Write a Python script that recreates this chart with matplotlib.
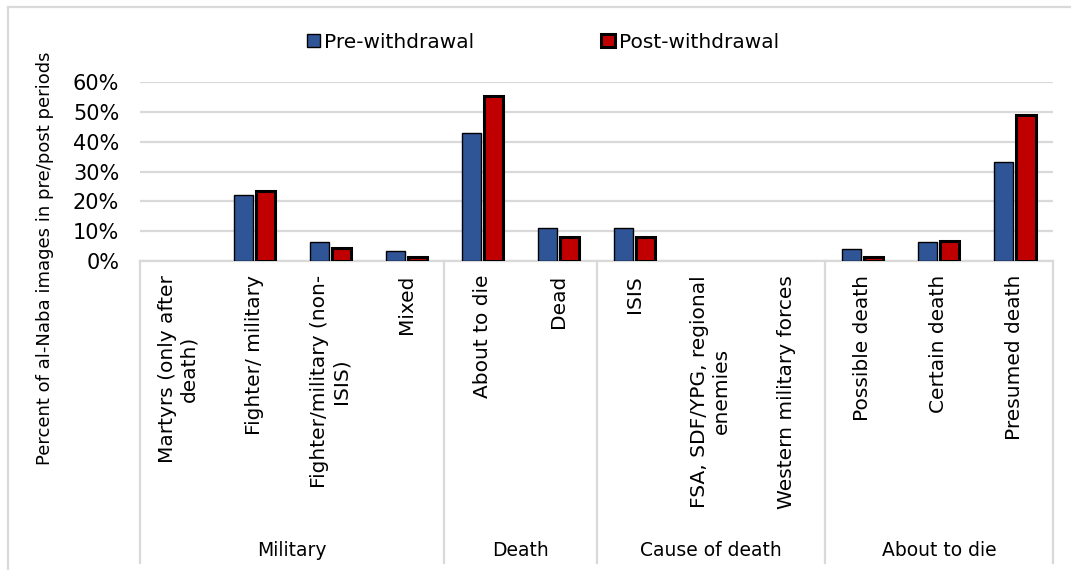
import matplotlib.pyplot as plt
from matplotlib.lines import Line2D
from matplotlib.patches import Patch
from matplotlib.transforms import blended_transform_factory

categorias = [
    "Martyrs (only after\ndeath)", "Fighter/ military", "Fighter/military (non-\nISIS)", "Mixed",
    "About to die", "Dead",
    "ISIS", "FSA, SDF/YPG, regional\nenemies", "Western military forces",
    "Possible death", "Certain death", "Presumed death",
]
grupos = ["Military", "Death", "Cause of death", "About to die"]
tamano_grupos = [4, 2, 3, 3]

pre_retiro = [0, 22, 6.3, 3.3, 43, 11, 11, 0, 0, 4.1, 6.3, 33.2]
post_retiro = [0, 23.3, 4.4, 1.4, 55.3, 8.2, 8.2, 0, 0, 1.3, 6.6, 49.1]

AZUL = "#2F5597"
ROJO = "#C00000"
GRIS = "#D9D9D9"

W, H = 1071, 570


def fy(py):
    # pixel desde arriba -> fraccion de figura
    return 1 - py / H


def graficar():
    plt.rcParams['font.family'] = ['DejaVu Sans']
    fig = plt.figure(figsize=(W / 100, H / 100), dpi=100)
    ax = fig.add_axes([140 / W, fy(261), (1053 - 140) / W, (261 - 82) / H])

    x = list(range(len(categorias)))
    ancho = 0.25
    # las barras en cero no llevan borde
    ax.bar([i - 0.145 for i in x], pre_retiro, width=ancho, color=AZUL,
           edgecolor="black", linewidth=[1.0 if v > 0 else 0 for v in pre_retiro],
           zorder=3)
    ax.bar([i + 0.145 for i in x], post_retiro, width=ancho, color=ROJO,
           edgecolor="black", linewidth=[2.2 if v > 0 else 0 for v in post_retiro],
           zorder=3)

    ax.set_xlim(-0.5, len(categorias) - 0.5)
    ax.set_ylim(0, 60)
    ax.set_yticks(range(0, 61, 10))
    ax.set_yticklabels([f"{v}%" for v in range(0, 61, 10)], fontsize=15)
    ax.tick_params(axis='y', length=0, pad=15)
    ax.set_xticks([])
    ax.grid(axis='y', color=GRIS, linewidth=1.6, zorder=0)
    for lado in ["top", "right", "left"]:
        ax.spines[lado].set_visible(False)
    ax.spines["bottom"].set_color(GRIS)
    ax.spines["bottom"].set_linewidth(1.6)

    trans = blended_transform_factory(ax.transData, fig.transFigure)
    for i, cat in enumerate(categorias):
        ax.text(i, fy(275), cat, transform=trans, rotation=90, ha='center',
                va='top', multialignment='center', fontsize=14.5, clip_on=False)

    # separadores y nombres de grupo
    inicio = -0.5
    ax.plot([inicio, inicio], [fy(261), fy(563)], color=GRIS, lw=1.6,
            transform=trans, clip_on=False)
    for grupo, n in zip(grupos, tamano_grupos):
        fin = inicio + n
        ax.plot([fin, fin], [fy(261), fy(563)], color=GRIS, lw=1.6,
                transform=trans, clip_on=False)
        ax.text((inicio + fin) / 2, fy(550), grupo, transform=trans,
                ha='center', va='center', fontsize=13.5, clip_on=False)
        inicio = fin

    fig.text(45 / W, fy(258), "Percent of al-Naba images in pre/post periods",
             rotation=90, ha='center', va='center', fontsize=13)

    handles = [
        Patch(facecolor=AZUL, edgecolor="black", linewidth=1.0, label="Pre-withdrawal"),
        Patch(facecolor=ROJO, edgecolor="black", linewidth=2.2, label="Post-withdrawal"),
    ]
    fig.legend(handles=handles, loc='center', bbox_to_anchor=(543 / W, fy(42)),
               ncol=2, frameon=False, fontsize=14.5, handlelength=0.65,
               handleheight=0.65, handletextpad=0.2, columnspacing=6.3)

    # marco exterior
    fig.add_artist(Line2D([8 / W, 8 / W], [fy(7), 0], color=GRIS, lw=1.6))
    fig.add_artist(Line2D([8 / W, 1], [fy(7), fy(7)], color=GRIS, lw=1.6))

    fig.savefig("out.png", dpi=100)
    plt.close()


if __name__ == '__main__':
    graficar()
